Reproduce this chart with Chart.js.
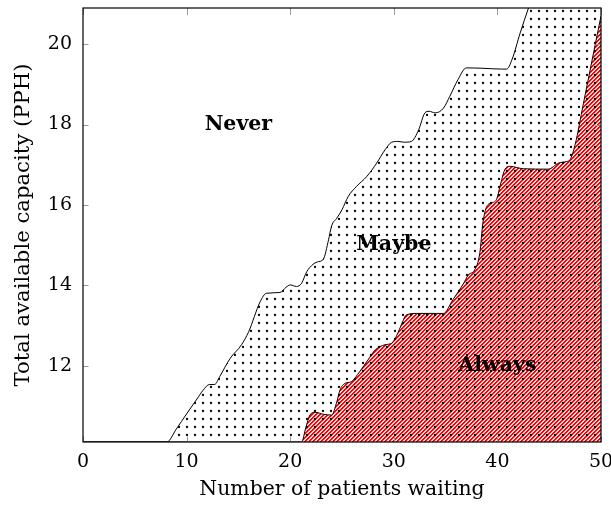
<!DOCTYPE html>
<html>
<head>
<meta charset="utf-8">
<script src="https://cdn.jsdelivr.net/npm/chart.js@4.4.0/dist/chart.umd.min.js"></script>
<style>
  html, body { margin: 0; padding: 0; background: #fff; }
</style>
</head>
<body>
<canvas id="c" width="611" height="506"></canvas>
<script>
// Boundary between the "Never" and "Maybe" regions
const maybeX = [0, 8.1, 9.0, 10.0, 11.0, 11.6, 12.2, 12.7, 13.2, 14.2, 15.3, 16.0, 17.1, 17.7,
  19.0, 19.6, 20.0, 20.6, 21.1, 21.6, 22.2, 22.6, 23.2, 23.7, 24.0, 24.5, 25.0, 25.6, 26.4,
  27.4, 28.35, 29.15, 29.8, 30.4, 31.0, 31.7, 32.4, 33.0, 33.4, 34.0, 34.8, 35.4, 36.2, 37.0,
  38.6, 40.4, 40.9, 41.4, 42.2, 43.0, 44.0, 50.0];
const maybeY = [10.1, 10.1, 10.42, 10.8, 11.17, 11.39, 11.53, 11.53, 11.73, 12.18, 12.52, 12.85, 13.59, 13.80,
  13.82, 13.95, 14.01, 13.97, 14.05, 14.34, 14.52, 14.58, 14.65, 15.13, 15.48, 15.67, 15.88, 16.21, 16.46,
  16.71, 17.04, 17.37, 17.56, 17.58, 17.56, 17.58, 17.87, 18.29, 18.33, 18.29, 18.41, 18.70, 19.12, 19.41,
  19.40, 19.38, 19.38, 19.61, 20.28, 20.9, 21.65, 24.5];

// Boundary between the "Maybe" and "Always" regions
const alwaysX = [0, 21.1, 21.5, 21.9, 22.4, 23.2, 24.0, 24.5, 24.8, 25.3, 25.9, 26.7, 27.5, 28.2,
  29.15, 29.8, 30.3, 30.8, 31.2, 32.2, 34.1, 34.8, 35.7, 36.7, 37.2, 37.8, 38.3, 38.6, 38.97,
  39.45, 39.9, 40.25, 40.7, 41.2, 42.5, 44.9, 45.9, 46.7, 47.0, 47.5, 48.3, 49.2, 50.0];
const alwaysY = [10.1, 10.1, 10.45, 10.77, 10.84, 10.79, 10.77, 11.10, 11.39, 11.56, 11.60, 11.85, 12.14, 12.39,
  12.52, 12.56, 12.76, 13.06, 13.26, 13.30, 13.30, 13.30, 13.64, 14.03, 14.26, 14.38, 14.80, 15.55, 15.96,
  16.05, 16.13, 16.46, 16.87, 16.96, 16.90, 16.89, 17.04, 17.08, 17.12, 17.50, 18.52, 19.68, 20.7];

const xTicks = [0, 10, 20, 30, 40, 50];
const yTicks = [12, 14, 16, 18, 20];

const regionNames = ['Never', 'Maybe', 'Always'];
const regionX = [15, 30, 40];
const regionY = [18, 15, 12];

const FONT = 'DejaVu Serif';

// Fill patterns: a dot grid and red north-east hatching
function dotPattern(ctx) {
  const t = document.createElement('canvas');
  t.width = 8; t.height = 8;
  const g = t.getContext('2d');
  g.fillStyle = '#000';
  g.beginPath();
  g.arc(3, 3, 1.15, 0, Math.PI * 2);
  g.fill();
  return ctx.createPattern(t, 'repeat');
}
function hatchPattern(ctx) {
  const t = document.createElement('canvas');
  t.width = 4; t.height = 4;
  const g = t.getContext('2d');
  for (let i = 0; i < 4; i++) {
    for (let j = 0; j < 4; j++) {
      const k = (i + j) % 4;
      if (k === 1 || k === 2) { g.fillStyle = '#ff0000'; g.fillRect(i, j, 1, 1); }
      else if (k === 3) { g.fillStyle = 'rgba(255,0,0,0.3)'; g.fillRect(i, j, 1, 1); }
    }
  }
  return ctx.createPattern(t, 'repeat');
}

const canvas = document.getElementById('c');
const ctx = canvas.getContext('2d');

const toPoints = (xs, ys) => xs.map((x, i) => ({ x, y: ys[i] }));

// Inward tick marks on all four sides plus the closed frame
const framePlugin = {
  id: 'frame',
  afterDraw(chart) {
    const { ctx, chartArea: a, scales: { x, y } } = chart;
    ctx.save();
    ctx.strokeStyle = '#9a9a9a';
    ctx.lineWidth = 1;
    ctx.beginPath();
    xTicks.forEach(v => {
      const px = Math.round(x.getPixelForValue(v)) + 0.5;
      ctx.moveTo(px, a.bottom); ctx.lineTo(px, a.bottom - 5.5);
      ctx.moveTo(px, a.top); ctx.lineTo(px, a.top + 7);
    });
    yTicks.forEach(v => {
      const py = Math.round(y.getPixelForValue(v)) + 0.5;
      ctx.moveTo(a.left, py); ctx.lineTo(a.left + 5.5, py);
      ctx.moveTo(a.right, py); ctx.lineTo(a.right - 5.5, py);
    });
    ctx.stroke();
    ctx.strokeStyle = '#000';
    ctx.lineWidth = 1.2;
    ctx.strokeRect(a.left, a.top, a.right - a.left, a.bottom - a.top);
    ctx.restore();
  }
};

// Region names placed at data coordinates
const regionLabelPlugin = {
  id: 'regionLabels',
  afterDatasetsDraw(chart) {
    const { ctx, scales: { x, y } } = chart;
    ctx.save();
    ctx.font = 'bold 20.5px "' + FONT + '"';
    ctx.fillStyle = '#000';
    ctx.textAlign = 'center';
    ctx.textBaseline = 'middle';
    regionNames.forEach((name, i) => {
      ctx.fillText(name, x.getPixelForValue(regionX[i]), y.getPixelForValue(regionY[i]));
    });
    ctx.restore();
  }
};

new Chart(ctx, {
  type: 'line',
  data: {
    datasets: [
      {
        label: 'Always',
        data: toPoints(alwaysX, alwaysY),
        fill: 'start',
        backgroundColor: hatchPattern(ctx),
        borderColor: '#000',
        borderWidth: 1,
        cubicInterpolationMode: 'monotone',
        pointRadius: 0,
        order: 1
      },
      {
        // dots are laid over the hatching below this curve
        label: 'Maybe',
        data: toPoints(maybeX, maybeY),
        fill: 'start',
        backgroundColor: dotPattern(ctx),
        borderColor: '#000',
        borderWidth: 1,
        cubicInterpolationMode: 'monotone',
        pointRadius: 0,
        order: 0
      }
    ]
  },
  options: {
    responsive: false,
    animation: false,
    devicePixelRatio: 1,
    layout: { padding: { top: 8, right: 10, left: 0, bottom: 0 } },
    plugins: {
      legend: { display: false },
      tooltip: { enabled: false }
    },
    scales: {
      x: {
        type: 'linear',
        min: 0,
        max: 50,
        grid: { display: false, drawTicks: false },
        border: { display: false },
        afterBuildTicks: s => { s.ticks = xTicks.map(v => ({ value: v })); },
        ticks: {
          font: { family: FONT, size: 19 },
          color: '#000',
          padding: 9,
          maxRotation: 0,
          autoSkip: false
        },
        title: {
          display: true,
          text: 'Number of patients waiting',
          font: { family: FONT, size: 20.4 },
          color: '#000',
          padding: { top: 0, bottom: 4 }
        },
        afterFit: s => { s.height = 64; s.paddingLeft = 0; s.paddingRight = 0; }
      },
      y: {
        type: 'linear',
        min: 10.1,
        max: 20.9,
        grid: { display: false, drawTicks: false },
        border: { display: false },
        afterBuildTicks: s => { s.ticks = yTicks.map(v => ({ value: v })); },
        ticks: {
          font: { family: FONT, size: 19 },
          color: '#000',
          padding: 11,
          autoSkip: false
        },
        title: {
          display: true,
          text: 'Total available capacity (PPH)',
          font: { family: FONT, size: 21.2 },
          color: '#000',
          padding: { top: 11, bottom: 0 }
        },
        afterFit: s => { s.width = 83; s.paddingTop = 0; s.paddingBottom = 0; }
      }
    }
  },
  plugins: [regionLabelPlugin, framePlugin]
});
</script>
</body>
</html>
